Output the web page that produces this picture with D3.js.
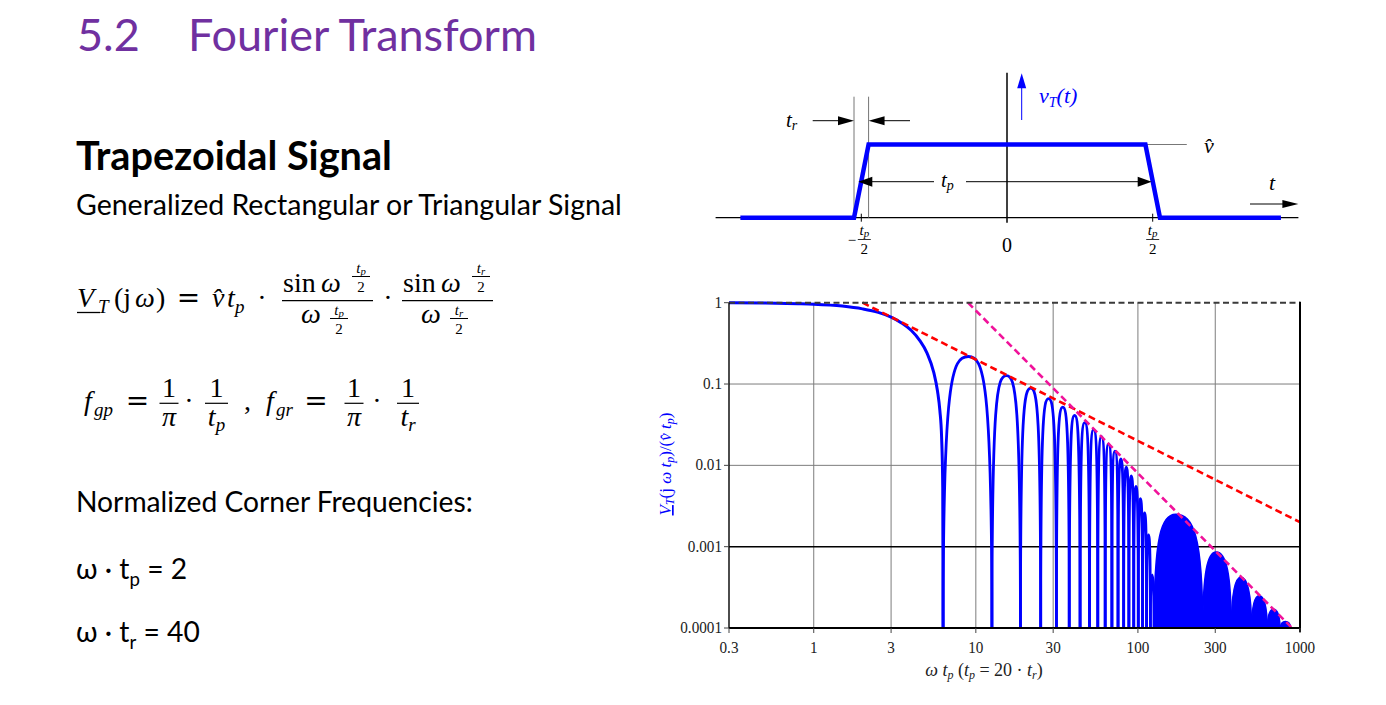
<!DOCTYPE html>
<html><head><meta charset="utf-8">
<script src="https://cdnjs.cloudflare.com/ajax/libs/d3/7.8.5/d3.min.js"></script>
<style>body{margin:0;background:#fff;} svg{display:block;}</style>
</head><body>
<svg id="c" width="1386" height="705"></svg>
<script>
// ================= DATA =================
const xTicks = [0.3, 1, 3, 10, 30, 100, 300, 1000];
const xTickLabels = ["0.3", "1", "3", "10", "30", "100", "300", "1000"];
const yTicks = [1, 0.1, 0.01, 0.001, 0.0001];
const yTickLabels = ["1", "0.1", "0.01", "0.001", "0.0001"];
const darkGrid = [0.001];

// main lobe of the normalised spectrum (ω·tp , |V|/(v̂ tp))
const mainLobeX = [0.3, 0.5, 0.8, 1, 1.5, 2, 2.5, 3, 3.5, 4, 4.5, 5, 5.5, 5.8, 6.0, 6.15, 6.25, 6.283];
const mainLobeY = [1.0, 0.99, 0.973, 0.96, 0.91, 0.84, 0.76, 0.665, 0.56, 0.455, 0.345, 0.24, 0.139, 0.082, 0.047, 0.022, 0.0053, 0.0001];

// discrete side lobes: zeros, peak positions and peak heights
const sideLobeZeros = [6.28, 12.57, 18.85, 25.13, 31.42, 37.70, 43.98, 50.27, 56.55, 62.83,
                       69.12, 75.40, 81.68, 87.96, 94.25, 100.53, 106.81, 113.10, 119.38, 125.66];
const sideLobePeakX = [8.99, 15.45, 21.8, 28.1, 34.4, 40.7, 47.0, 53.3, 59.6, 65.9,
                       72.2, 78.5, 84.8, 91.0, 97.3, 103.6, 109.9, 116.2, 122.4];
const sideLobePeakY = [0.218, 0.127, 0.089, 0.066, 0.052, 0.041, 0.0335, 0.0275, 0.0225, 0.0184,
                       0.015, 0.012, 0.0095, 0.0074, 0.0055, 0.0039, 0.0026, 0.0014, 0.00045];

// densely oscillating region: envelope lobes (appear as filled arches)
const envZeros = [125.66, 251.3, 377.0, 502.7, 628.3, 754.0, 879.6];
const envPeakX = [171, 304, 432, 560, 686, 812];
const envPeakY = [0.0025, 0.00086, 0.00042, 0.00025, 0.00017, 0.00012];

// asymptotes
const unityX = [0.3, 1000], unityY = [1, 1];
const gpAsymX = [2, 1000], gpAsymY = [1, 0.002];
const grAsymX = [8.94, 894], grAsymY = [1, 0.0001];

// trapezoid (time in units of tp, amplitude in units of v̂)
const trapT = [-0.915, -0.525, -0.475, 0.475, 0.525, 0.94];
const trapV = [0, 0, 1, 1, 0, 0];

// ================= DRAWING =================
const svg = d3.select('#c');
const SERIF = '"Liberation Serif","DejaVu Serif",serif';
const DSERIF = '"DejaVu Serif","Liberation Serif",serif';
const SANS = 'Lato,"Open Sans","DejaVu Sans",sans-serif';
const BLUE = '#0000ff', PURPLE = '#7030a0';

function T(parent, x, y, txt, size, opt = {}) {
  const t = parent.append('text').attr('x', x).attr('y', y)
    .attr('font-family', opt.font || SERIF).attr('font-size', size)
    .attr('font-style', opt.i ? 'italic' : 'normal')
    .attr('font-weight', opt.b ? 'bold' : 'normal')
    .attr('text-anchor', opt.anchor || 'start')
    .attr('fill', opt.fill || '#000').text(txt);
  return t;
}
function L(parent, x1, y1, x2, y2, stroke, w) {
  return parent.append('line').attr('x1', x1).attr('y1', y1).attr('x2', x2).attr('y2', y2)
    .attr('stroke', stroke || '#000').attr('stroke-width', w || 1);
}
function fit(sel, target) {
  const w = sel.node().getComputedTextLength();
  const fs = parseFloat(sel.attr('font-size'));
  sel.attr('font-size', fs * target / w);
  return fs * target / w;
}

// ---------- left column text ----------
const gL = svg.append('g');
const t52 = T(gL, 77, 51, '5.2', 47, {font: SANS, fill: PURPLE});
const tFT = T(gL, 188, 51, 'Fourier Transform', 47, {font: SANS, fill: PURPLE});
const titleFs = fit(tFT, 349);
t52.attr('font-size', titleFs);

const tTS = T(gL, 76, 170, 'Trapezoidal Signal', 40, {font: SANS, b: true});
fit(tTS, 316);
const tGR = T(gL, 76, 215, 'Generalized Rectangular or Triangular Signal', 30, {font: SANS});
fit(tGR, 546);
const tNC = T(gL, 76, 512, 'Normalized Corner Frequencies:', 30, {font: SANS});
const bodyFs = fit(tNC, 397);

function omegaLine(yb, sub, rest) {
  const t = gL.append('text').attr('x', 76).attr('y', yb).attr('font-family', SANS)
    .attr('font-size', bodyFs).attr('fill', '#000');
  t.append('tspan').text('ω · t');
  t.append('tspan').attr('font-size', bodyFs * 0.66).attr('dy', 7).text(sub);
  t.append('tspan').attr('dy', -7).text(' = ' + rest);
}
omegaLine(579, 'p', '2');
omegaLine(642, 'r', '40');

// ---------- formula 1 ----------
const gF = svg.append('g');
const FS = 28, SS = 19, FF = 15;
function smallFrac(g, cx, barY, numT, numSub, den, w) {
  const n = g.append('text').attr('y', barY - 3.5).attr('font-family', SERIF).attr('font-size', FF).attr('text-anchor', 'middle').attr('x', cx);
  n.append('tspan').attr('font-style', 'italic').text(numT);
  n.append('tspan').attr('font-style', 'italic').attr('font-size', FF * 0.72).attr('dy', 2).text(numSub);
  L(g, cx - w / 2, barY, cx + w / 2, barY, '#000', 1);
  T(g, cx, barY + 15.5, den, FF, {anchor: 'middle'});
}
T(gF, 77, 306.7, 'V', FS, {i: true});
L(gF, 77, 312.5, 100, 312.5, '#000', 1.3);
T(gF, 98, 313, 'T', SS, {i: true});
T(gF, 114, 306.7, '(j', FS);
T(gF, 135, 306.7, 'ω', FS, {i: true});
T(gF, 156, 306.7, ')', FS);
T(gF, 188.5, 306.7, '=', FS, {anchor: 'middle', font: DSERIF});
T(gF, 212, 306.7, 'v\u0302', FS, {i: true});
T(gF, 227, 306.7, 't', FS, {i: true});
T(gF, 235, 313, 'p', SS, {i: true});
T(gF, 262, 306.7, '·', FS, {anchor: 'middle'});
// fraction 1
L(gF, 282, 300.7, 373, 300.7, '#000', 1.2);
T(gF, 283, 291.7, 'sin', FS);
T(gF, 321, 291.7, 'ω', FS, {i: true});
smallFrac(gF, 361, 276.5, 't', 'p', '2', 18);
T(gF, 301, 323, 'ω', FS, {i: true});
smallFrac(gF, 339, 318.5, 't', 'p', '2', 18);
T(gF, 388, 306.7, '·', FS, {anchor: 'middle'});
// fraction 2
L(gF, 402, 300.7, 493, 300.7, '#000', 1.2);
T(gF, 403, 291.7, 'sin', FS);
T(gF, 441, 291.7, 'ω', FS, {i: true});
smallFrac(gF, 481, 276.5, 't', 'r', '2', 18);
T(gF, 421, 323, 'ω', FS, {i: true});
smallFrac(gF, 459, 318.5, 't', 'r', '2', 18);

// ---------- formula 2 ----------
const BY = 403.3, BL = 410;
function bigFrac(g, cx, w, num, den, denSub) {
  L(g, cx - w / 2, BY, cx + w / 2, BY, '#000', 1.2);
  T(g, cx, BY - 6, num, FS, {anchor: 'middle'});
  const d = g.append('text').attr('x', cx).attr('y', BY + 23).attr('font-family', SERIF).attr('font-size', FS).attr('text-anchor', 'middle');
  d.append('tspan').attr('font-style', 'italic').text(den);
  if (denSub) d.append('tspan').attr('font-style', 'italic').attr('font-size', SS).attr('dy', 5).text(denSub);
}
T(gF, 84, BL, 'f', FS, {i: true});
T(gF, 94, BL + 6, 'gp', SS, {i: true});
T(gF, 137.5, BL, '=', FS, {anchor: 'middle', font: DSERIF});
bigFrac(gF, 169, 19, '1', 'π');
T(gF, 189, BL, '·', FS, {anchor: 'middle'});
bigFrac(gF, 216.5, 23, '1', 't', 'p');
T(gF, 244, BL, ',', FS);
T(gF, 266, BL, 'f', FS, {i: true});
T(gF, 276, BL + 6, 'gr', SS, {i: true});
T(gF, 316, BL, '=', FS, {anchor: 'middle', font: DSERIF});
bigFrac(gF, 354, 19, '1', 'π');
T(gF, 377, BL, '·', FS, {anchor: 'middle'});
bigFrac(gF, 408, 22, '1', 't', 'r');

// ---------- top time-domain diagram ----------
const gT = svg.append('g');
const tS = d3.scaleLinear().domain([-1, 1]).range([715.6, 1298.4]);
const vS = d3.scaleLinear().domain([0, 1]).range([217.7, 144.5]);
function head(g, x0, y0, dir, len, hw, fill) { // dir: 'r','l','u'
  let pts;
  if (dir === 'r') pts = [[x0, y0], [x0 - len, y0 - hw], [x0 - len, y0 + hw]];
  if (dir === 'l') pts = [[x0, y0], [x0 + len, y0 - hw], [x0 + len, y0 + hw]];
  if (dir === 'u') pts = [[x0, y0], [x0 - hw, y0 + len], [x0 + hw, y0 + len]];
  g.append('path').attr('d', 'M' + pts.join('L') + 'Z').attr('fill', fill || '#000');
}
L(gT, tS(-1), vS(0), tS(1), vS(0), '#000', 1.3);
L(gT, tS(0), vS(1.98), tS(0), vS(-0.07), '#000', 1.5);
// rise/fall helper lines
L(gT, tS(-0.525), vS(1.653), tS(-0.525), vS(0), '#666', 0.9);
L(gT, tS(-0.475), vS(1.653), tS(-0.475), vS(0), '#666', 0.9);
L(gT, tS(0.475), vS(1), tS(0.617), vS(1), '#777', 1);
// ticks at ±tp/2
L(gT, tS(-0.5), vS(0) - 4, tS(-0.5), vS(0) + 4, '#000', 1);
L(gT, tS(0.5), vS(0) - 4, tS(0.5), vS(0) + 4, '#000', 1);
// trapezoid
gT.append('path').datum(d3.range(trapT.length))
  .attr('d', d3.line().x(i => tS(trapT[i])).y(i => vS(trapV[i])))
  .attr('fill', 'none').attr('stroke', BLUE).attr('stroke-width', 4.5).attr('stroke-linejoin', 'miter');
// tr arrows
L(gT, 812.7, 120.7, 845, 120.7, '#000', 1);
head(gT, tS(-0.525), 120.7, 'r', 16, 4.5);
L(gT, 876, 120.7, 910, 120.7, '#000', 1);
head(gT, tS(-0.475), 120.7, 'l', 16, 4.5);
const trl = gT.append('text').attr('x', 786).attr('y', 127).attr('font-family', SERIF).attr('font-size', 21).attr('font-style', 'italic');
trl.append('tspan').text('t'); trl.append('tspan').attr('font-size', 14).attr('dy', 3).text('r');
// tp double arrow
L(gT, 866, 181.7, 934, 181.7, '#000', 1);
head(gT, 858.3, 181.7, 'l', 14, 5);
L(gT, 966, 181.7, 1144, 181.7, '#000', 1);
head(gT, 1151.7, 181.7, 'r', 14, 5);
const tpl = gT.append('text').attr('x', 941).attr('y', 187).attr('font-family', SERIF).attr('font-size', 21).attr('font-style', 'italic');
tpl.append('tspan').text('t'); tpl.append('tspan').attr('font-size', 14).attr('dy', 3).text('p');
// t axis arrow
L(gT, 1250, 204, 1285, 204, '#000', 1);
head(gT, 1298.4, 204, 'r', 16, 4);
T(gT, 1269, 190, 't', 22, {i: true});
// blue up arrow + v_T(t)
L(gT, 1021.7, 120, 1021.7, 86, BLUE, 1);
head(gT, 1021.7, 73.3, 'u', 15, 4.5, BLUE);
const vtl = gT.append('text').attr('x', 1039).attr('y', 103).attr('font-family', SERIF).attr('font-size', 22).attr('font-style', 'italic').attr('fill', BLUE);
vtl.append('tspan').text('v'); vtl.append('tspan').attr('font-size', 14).attr('dy', 4).text('T');
vtl.append('tspan').attr('dy', -4).text('(t)');
T(gT, 1204, 153, 'v\u0302', 22, {i: true});
// tick labels
T(gT, tS(0), 252, '0', 20, {anchor: 'middle'});
function tpHalf(cx, minus) {
  const n = gT.append('text').attr('x', cx).attr('y', 235).attr('font-family', SERIF).attr('font-size', 15).attr('font-style', 'italic').attr('text-anchor', 'middle');
  n.append('tspan').text('t'); n.append('tspan').attr('font-size', 11).attr('dy', 1.5).text('p');
  L(gT, cx - 6.5, 239.5, cx + 6.5, 239.5, '#000', 0.8);
  T(gT, cx, 254, '2', 15, {anchor: 'middle'});
  if (minus) T(gT, cx - 8, 245, '−', 15, {anchor: 'end'});
}
tpHalf(tS(-0.5) + 3, true);
tpHalf(tS(0.5), false);

// ---------- spectrum chart ----------
const gC = svg.append('g');
const x = d3.scaleLog().domain([0.3, 1000]).range([729, 1300]);
const y = d3.scaleLog().domain([1e-4, 1]).range([628, 302.7]);
svg.append('defs').append('clipPath').attr('id', 'pc').append('rect')
  .attr('x', 729).attr('y', 299).attr('width', 571).attr('height', 329);

// grid
xTicks.slice(1, -1).forEach(v => L(gC, x(v), y(1), x(v), y(1e-4), '#7d7d7d', 1));
yTicks.slice(1, -1).forEach(v => {
  const dark = darkGrid.includes(v);
  L(gC, x(0.3), y(v), x(1000), y(v), dark ? '#000' : '#7d7d7d', dark ? 1.4 : 1);
});

const gP = gC.append('g').attr('clip-path', 'url(#pc)');
const lineXY = d3.line().x(d => x(d[0])).y(d => y(d[1]));
const BOT = y(1e-4) + 3;

function arch(z0, px, z1, py) {
  const X0 = x(z0), Xp = x(px), X1 = x(z1), P = y(py);
  const D = BOT - P, c = Math.min(20, D * 0.3), a = 0.35;
  const p = d3.path();
  p.moveTo(X0, BOT);
  p.bezierCurveTo(X0, P + c, X0 + a * (Xp - X0), P, Xp, P);
  p.bezierCurveTo(X1 - a * (X1 - Xp), P, X1, P + c, X1, BOT);
  return p.toString();
}
// filled envelope arches of the dense part
envPeakX.forEach((px, i) => {
  gP.append('path').attr('d', arch(envZeros[i], px, envZeros[i + 1], envPeakY[i]) + 'Z')
    .attr('fill', BLUE).attr('stroke', BLUE).attr('stroke-width', 1.5);
});
// side lobes
sideLobePeakX.forEach((px, i) => {
  gP.append('path').attr('d', arch(sideLobeZeros[i], px, sideLobeZeros[i + 1], sideLobePeakY[i]))
    .attr('fill', 'none').attr('stroke', BLUE).attr('stroke-width', 2.8);
});
// main lobe
gP.append('path').datum(mainLobeX.map((v, i) => [v, mainLobeY[i]]))
  .attr('d', lineXY.curve(d3.curveMonotoneX))
  .attr('fill', 'none').attr('stroke', BLUE).attr('stroke-width', 3);
lineXY.curve(d3.curveLinear);

// asymptotes
gP.append('path').datum(gpAsymX.map((v, i) => [v, gpAsymY[i]])).attr('d', lineXY)
  .attr('fill', 'none').attr('stroke', '#ff0000').attr('stroke-width', 2.6).attr('stroke-dasharray', '7,4');
gP.append('path').datum(grAsymX.map((v, i) => [v, grAsymY[i]])).attr('d', lineXY)
  .attr('fill', 'none').attr('stroke', '#f0129a').attr('stroke-width', 2.6).attr('stroke-dasharray', '7,4');
gC.append('path').datum(unityX.map((v, i) => [v, unityY[i]])).attr('d', lineXY)
  .attr('fill', 'none').attr('stroke', '#3a3a3a').attr('stroke-width', 2).attr('stroke-dasharray', '6,3.5');

// frame
L(gC, x(0.3), y(1), x(0.3), y(1e-4), '#000', 1.4);
L(gC, x(0.3), y(1e-4), x(1000), y(1e-4), '#000', 1.8);
L(gC, x(1000), y(1) - 1, x(1000), y(1e-4) + 4, '#000', 2);
xTicks.forEach(v => L(gC, x(v), y(1e-4), x(v), y(1e-4) + 5, '#444', 1));
yTicks.forEach(v => L(gC, x(0.3) - 5, y(v), x(0.3), y(v), '#444', 1));

// tick labels
xTicks.forEach((v, i) => {
  gC.append('text').attr('transform', `translate(${x(v)},653) scale(0.92,1)`)
    .attr('text-anchor', 'middle').attr('font-family', SERIF).attr('font-size', 16.5).attr('fill', '#222')
    .text(xTickLabels[i]);
});
yTicks.forEach((v, i) => {
  gC.append('text').attr('transform', `translate(722,${y(v) + 5}) scale(0.92,1)`)
    .attr('text-anchor', 'end').attr('font-family', SERIF).attr('font-size', 16.5).attr('fill', '#222')
    .text(yTickLabels[i]);
});
// x axis label
const xl = gC.append('text').attr('x', 984).attr('y', 676).attr('text-anchor', 'middle')
  .attr('font-family', SERIF).attr('font-size', 18).attr('fill', '#222');
xl.append('tspan').attr('font-style', 'italic').text('ω t');
xl.append('tspan').attr('font-style', 'italic').attr('font-size', 12).attr('dy', 3).text('p');
xl.append('tspan').attr('dy', -3).text(' (');
xl.append('tspan').attr('font-style', 'italic').text('t');
xl.append('tspan').attr('font-style', 'italic').attr('font-size', 12).attr('dy', 3).text('p');
xl.append('tspan').attr('dy', -3).text(' = 20 · ');
xl.append('tspan').attr('font-style', 'italic').text('t');
xl.append('tspan').attr('font-style', 'italic').attr('font-size', 12).attr('dy', 3).text('r');
xl.append('tspan').attr('dy', -3).text(')');
// y axis label
const yl = gC.append('text').attr('transform', 'translate(671,464) rotate(-90)').attr('text-anchor', 'middle')
  .attr('font-family', SERIF).attr('font-size', 17).attr('fill', BLUE);
yl.append('tspan').attr('font-style', 'italic').attr('text-decoration', 'underline').text('V');
yl.append('tspan').attr('font-style', 'italic').attr('font-size', 12).attr('dy', 3).text('T');
yl.append('tspan').attr('dy', -3).text('(j ');
yl.append('tspan').attr('font-style', 'italic').text('ω t');
yl.append('tspan').attr('font-style', 'italic').attr('font-size', 12).attr('dy', 3).text('p');
yl.append('tspan').attr('dy', -3).text(')/(');
yl.append('tspan').attr('font-style', 'italic').text('v\u0302 t');
yl.append('tspan').attr('font-style', 'italic').attr('font-size', 12).attr('dy', 3).text('p');
yl.append('tspan').attr('dy', -3).text(')');
</script>
</body></html>
